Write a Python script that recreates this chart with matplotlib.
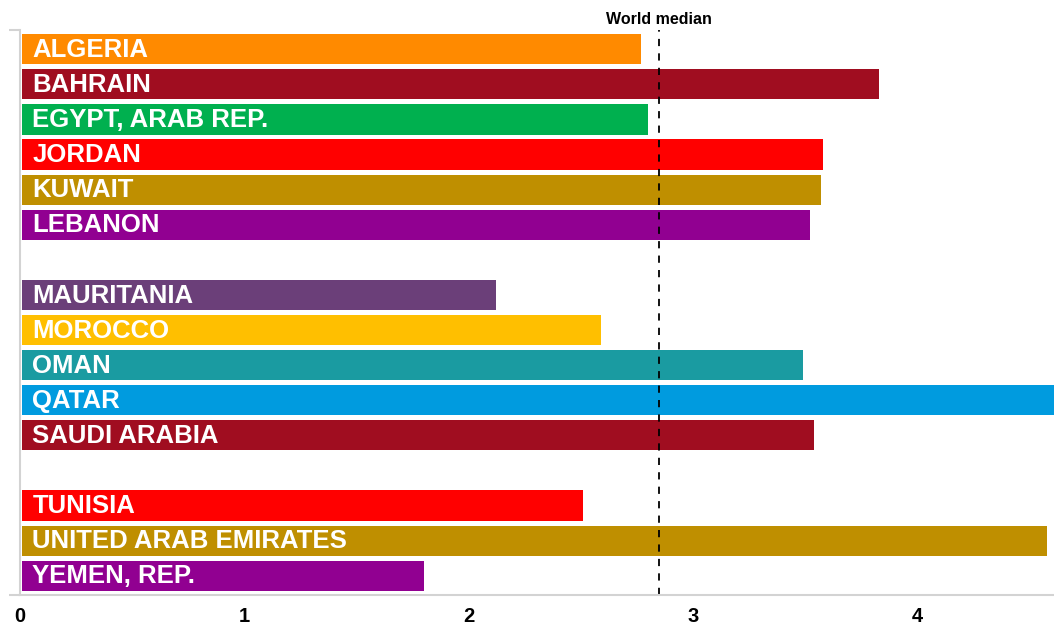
import matplotlib.pyplot as plt
import numpy as np

plt.rcParams['font.family'] = ['Liberation Sans', 'DejaVu Sans']

countries = ["ALGERIA", "BAHRAIN", "EGYPT, ARAB REP.", "JORDAN", "KUWAIT", "LEBANON",
             "MAURITANIA", "MOROCCO", "OMAN", "QATAR", "SAUDI ARABIA",
             "TUNISIA", "UNITED ARAB EMIRATES", "YEMEN, REP."]
values = [2.76, 3.82, 2.79, 3.57, 3.56, 3.51,
          2.11, 2.58, 3.48, 4.75, 3.53,
          2.50, 4.57, 1.79]
groups = [0, 0, 0, 0, 0, 0, 1, 1, 1, 1, 1, 2, 2, 2]
colors = ["#FF8A00", "#A00D20", "#00B04F", "#FF0000", "#BF8F00", "#910091",
          "#6B3F79", "#FFBF00", "#1A9BA1", "#009BDF", "#A00D20",
          "#FF0000", "#BF8F00", "#910091"]
world_median = 2.85
xticks = [0, 1, 2, 3, 4]

# one empty slot between groups
pos = np.arange(len(countries)) + np.array(groups)

fig = plt.figure(figsize=(10.54, 6.28), dpi=100)
ax = fig.add_axes([20 / 1054, 33 / 628, 1 - 20 / 1054, 565 / 628])

ax.barh(pos, values, height=0.86, color=colors, left=0.01)
for p, name in zip(pos, countries):
    ax.text(0.055, p + 0.02, name, color="white", fontsize=18.5, fontweight="bold",
            va="center", ha="left")

ax.axvline(world_median, color="black", ls=(0, (4, 4)), lw=1.3)
ax.text(world_median, 1.005, "World median", transform=ax.get_xaxis_transform(),
        ha="center", va="bottom", fontsize=11.5, fontweight="bold")

ax.set_xlim(0, 4.61)
ax.set_ylim(15.55, -0.55)

gray = "#D3D3D3"
for s in ["top", "right"]:
    ax.spines[s].set_visible(False)
for s in ["left", "bottom"]:
    ax.spines[s].set_color(gray)
    ax.spines[s].set_linewidth(1.5)

ax.set_xticks(xticks)
ax.set_xticklabels([str(t) for t in xticks], fontsize=14.5, fontweight="bold")
ax.tick_params(axis="x", length=0, pad=9)
ax.set_xticks([0], minor=True)
ax.tick_params(axis="x", which="minor", length=7, color=gray, width=1.5)
ax.set_yticks([-0.55, 15.55])
ax.set_yticklabels([])
ax.tick_params(axis="y", length=8, color=gray, width=1.5)

fig.savefig("out.png", dpi=100)
